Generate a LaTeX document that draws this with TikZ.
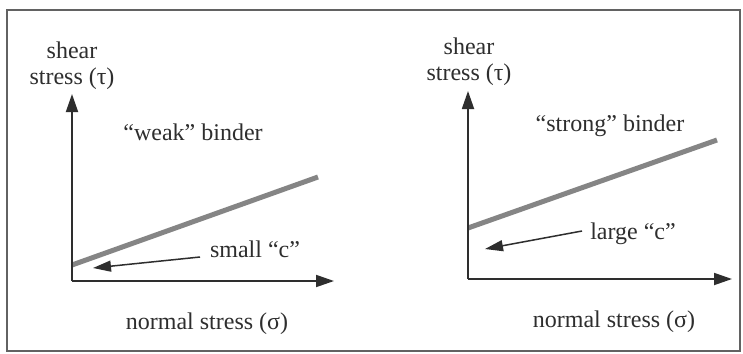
\documentclass[tikz,border=0pt]{standalone}
\usepackage{fontspec}
\setmainfont{Liberation Serif}
\usetikzlibrary{arrows.meta}
\definecolor{ink}{HTML}{2E2E2E}
\definecolor{band}{HTML}{858585}
\begin{document}
\begin{tikzpicture}[x=1pt,y=-1pt,
  lbl/.style={inner sep=0pt,text=ink,font=\fontsize{24}{28}\selectfont},
  axisline/.style={draw=ink,line width=1.8pt,-{Triangle[length=18pt,width=12pt]}},
  ptr/.style={draw=ink,line width=1.5pt,-{Triangle[length=18pt,width=11pt]}},
  envelope/.style={draw=band,line width=5pt}]
\useasboundingbox (0,0) rectangle (743,353);
\fill[white] (0,0) rectangle (743,353);
\draw[ink!75,line width=1.6pt] (7,10) rectangle (740,351);
% left panel
\coordinate (lo) at (72,281);
\coordinate (ly) at (72,94);
\coordinate (lx) at (334,281);
\coordinate (la) at (72,265);
\coordinate (lb) at (318,177);
\coordinate (lp) at (200,257);
\coordinate (lq) at (93,268);
\draw[envelope] (la) -- (lb);
\draw[axisline] (lo) -- (ly);
\draw[axisline] (lo) -- (lx);
\draw[ptr] (lp) -- (lq);
\node[lbl] (ls1) at (72,50) {shear};
\node[lbl] (ls2) at (72,79) {stress (τ)};
\node[lbl] (lw) at (193,132) {“weak” binder};
\node[lbl] (lc) at (255,249) {small “c”};
\node[lbl] (ln) at (207,324) {normal stress (σ)};
% right panel
\coordinate (ro) at (468,279);
\coordinate (ry) at (468,91);
\coordinate (rx) at (732,279);
\coordinate (ra) at (468,228);
\coordinate (rb) at (717,140);
\coordinate (rp) at (582,231);
\coordinate (rq) at (485,249);
\draw[envelope] (ra) -- (rb);
\draw[axisline] (ro) -- (ry);
\draw[axisline] (ro) -- (rx);
\draw[ptr] (rp) -- (rq);
\node[lbl] (rs1) at (469,46) {shear};
\node[lbl] (rs2) at (469,75) {stress (τ)};
\node[lbl] (rw) at (610,126) {“strong” binder};
\node[lbl] (rc) at (633,234) {large “c”};
\node[lbl] (rn) at (614,322) {normal stress (σ)};
\end{tikzpicture}
\end{document}
